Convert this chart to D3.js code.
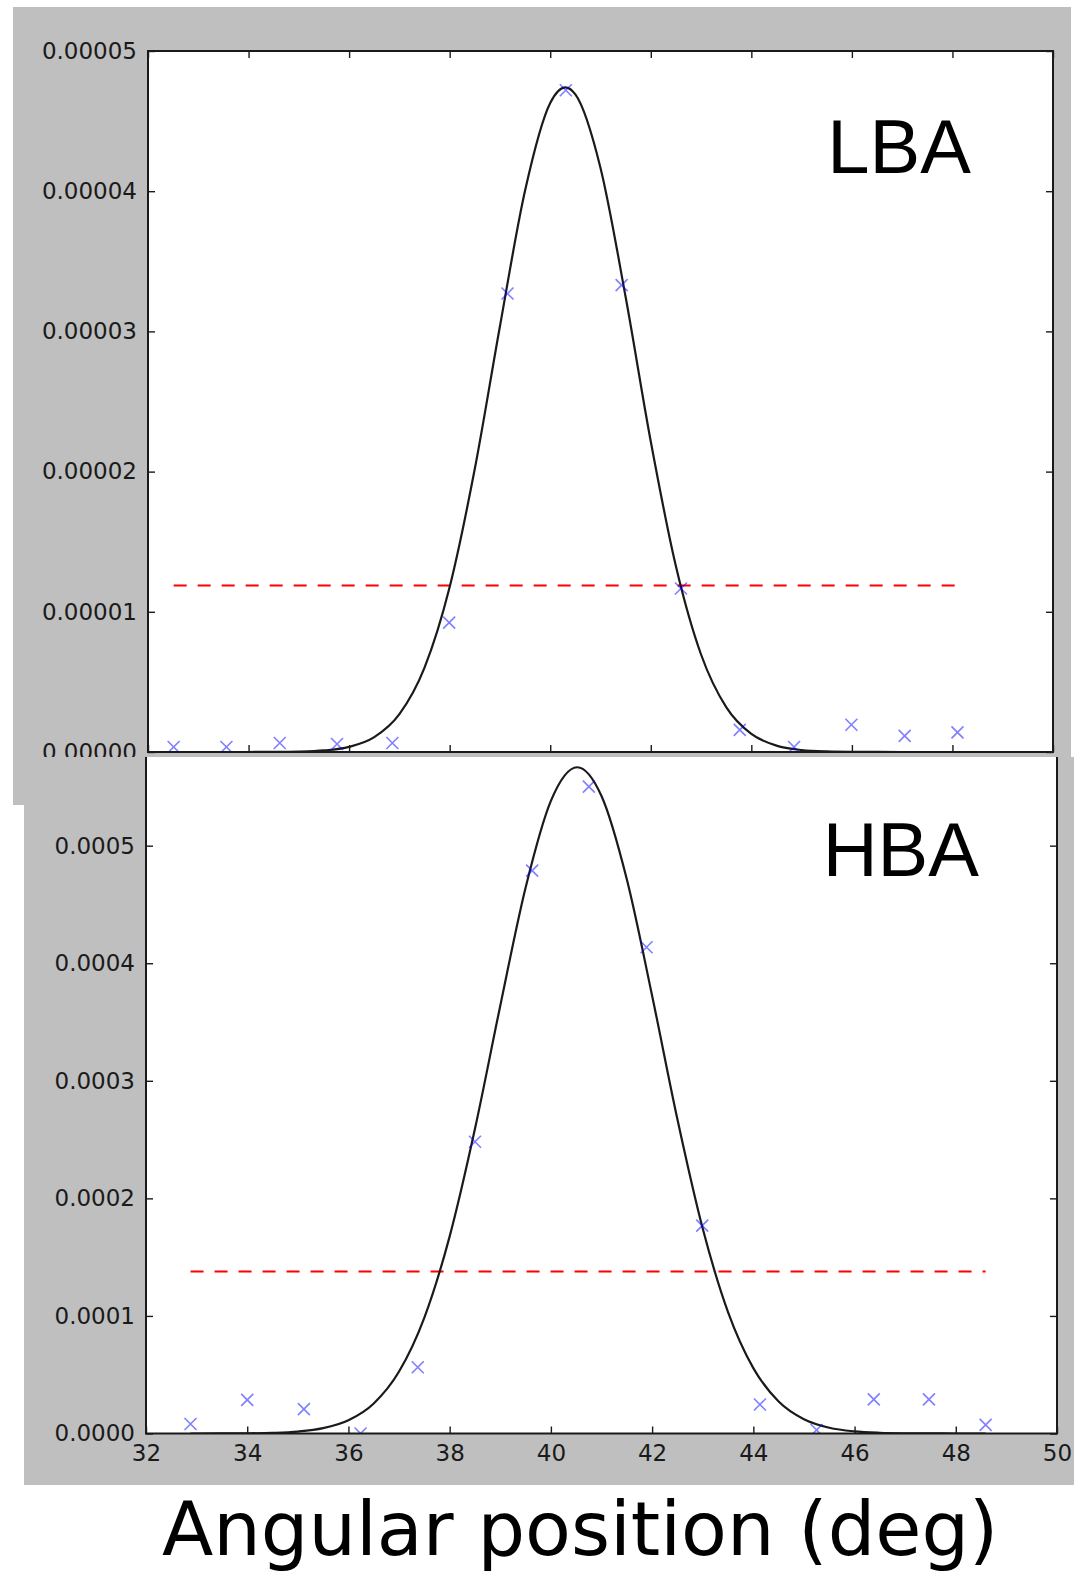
<!DOCTYPE html>
<html>
<head>
<meta charset="utf-8">
<script src="https://cdn.jsdelivr.net/npm/d3@7"></script>
<style>
  body { margin: 0; background: #ffffff; }
  svg { display: block; }
  .tick text { font-family: "DejaVu Sans", sans-serif; font-size: 23px; fill: #1a1a1a; }
  .tick line { stroke: #1a1a1a; stroke-width: 1.4; }
</style>
</head>
<body>
<svg id="chart" width="1074" height="1572"></svg>
<script>
// x ticks shared by both panels
const angleTicks = [32, 34, 36, 38, 40, 42, 44, 46, 48, 50];

// LBA panel, power in units of 1e-5
const lbaUnit = 1e-5;
const lbaTicks = [0, 1, 2, 3, 4, 5];
const lbaAngle = [32.51, 33.56, 34.62, 35.76, 36.86, 37.99, 39.15, 40.31, 41.42, 42.60, 43.77, 44.85, 45.99, 47.05, 48.10];
const lbaPower = [0.036, 0.036, 0.064, 0.057, 0.064, 0.923, 3.27, 4.72, 3.33, 1.166, 0.158, 0.036, 0.194, 0.115, 0.14];
const lbaFitAngle = [32.51, 33, 33.5, 34, 34.5, 35, 35.5, 36, 36.5, 37, 37.5, 38, 38.5, 39, 39.5, 40, 40.3,
  40.5, 41, 41.5, 42, 42.5, 43, 43.5, 44, 44.5, 45, 45.5, 46, 46.5, 47, 47.5, 48, 48.1];
const lbaFitPower = [0, 0, 0, 0.0001, 0.0007, 0.0029, 0.011, 0.0365, 0.1058, 0.2697, 0.6017, 1.177, 2.02, 3.037, 4.005, 4.629, 4.74,
  4.69, 4.166, 3.245, 2.215, 1.325, 0.6954, 0.3199, 0.1289, 0.0456, 0.0141, 0.0038, 0.0009, 0.0002, 0, 0, 0, 0];
const lbaLevel = 1.188;

// HBA panel, power in units of 1e-4
const hbaUnit = 1e-4;
const hbaTicks = [0, 1, 2, 3, 4, 5];
const hbaAngle = [32.88, 34.0, 35.12, 36.24, 37.37, 38.50, 39.63, 40.75, 41.89, 42.99, 44.13, 45.25, 46.38, 47.47, 48.59];
const hbaPower = [0.081, 0.286, 0.207, 0.0, 0.564, 2.482, 4.788, 5.502, 4.136, 1.768, 0.247, 0.03, 0.29, 0.29, 0.073];
const hbaFitAngle = [32.88, 33, 33.5, 34, 34.5, 35, 35.5, 36, 36.5, 37, 37.5, 38, 38.5, 39, 39.5, 40, 40.52,
  41, 41.5, 42, 42.5, 43, 43.5, 44, 44.5, 45, 45.5, 46, 46.5, 47, 47.5, 48, 48.5, 48.59];
const hbaFitPower = [0.0001, 0.0001, 0.00045, 0.0016, 0.0054, 0.0164, 0.0452, 0.1128, 0.2558, 0.527, 0.986, 1.677, 2.592, 3.639, 4.642, 5.381, 5.667,
  5.422, 4.714, 3.724, 2.673, 1.743, 1.033, 0.556, 0.2718, 0.1209, 0.0487, 0.0179, 0.006, 0.0018, 0.0005, 0.0001, 0, 0];
const hbaLevel = 1.378;

const svg = d3.select("#chart");
svg.append("rect").attr("width", 1074).attr("height", 1572).attr("fill", "#ffffff");

function drawPanel(cfg) {
  const g = svg.append("g");
  g.append("rect")
    .attr("x", cfg.bg[0]).attr("y", cfg.bg[1])
    .attr("width", cfg.bg[2]).attr("height", cfg.bg[3])
    .attr("fill", "#bfbfbf");

  const x = d3.scaleLinear().domain([32, 50]).range([cfg.left, cfg.right]);
  const y = d3.scaleLinear().domain(cfg.yDomain).range([cfg.bottom, cfg.yTopPx]);
  const top = cfg.clipTop;

  g.append("rect")
    .attr("x", cfg.left).attr("y", top)
    .attr("width", cfg.right - cfg.left).attr("height", cfg.bottom - top)
    .attr("fill", "#ffffff");

  const clipId = "clip-" + cfg.name;
  g.append("clipPath").attr("id", clipId)
    .append("rect")
    .attr("x", cfg.left).attr("y", top)
    .attr("width", cfg.right - cfg.left).attr("height", cfg.bottom - top);

  const inner = g.append("g").attr("clip-path", `url(#${clipId})`);

  // threshold line
  const lx = d3.extent(cfg.angle);
  inner.append("line")
    .attr("x1", x(lx[0])).attr("x2", x(lx[1]))
    .attr("y1", y(cfg.level)).attr("y2", y(cfg.level))
    .attr("stroke", "#ff0000").attr("stroke-width", 2)
    .attr("stroke-dasharray", "13,11");

  // fitted curve
  const fit = cfg.fitAngle.map((a, i) => [a, cfg.fitPower[i]]);
  inner.append("path")
    .datum(fit)
    .attr("fill", "none")
    .attr("stroke", "#1a1a1a")
    .attr("stroke-width", 2.2)
    .attr("d", d3.line().x((d) => x(d[0])).y((d) => y(d[1])).curve(d3.curveMonotoneX));

  // measured points as x markers
  const pts = cfg.angle.map((a, i) => [a, cfg.power[i]]);
  const s = 6;
  inner.append("g")
    .selectAll("path")
    .data(pts)
    .join("path")
    .attr("d", (d) => {
      const px = x(d[0]), py = y(d[1]);
      return `M${px - s},${py - s}L${px + s},${py + s}M${px - s},${py + s}L${px + s},${py - s}`;
    })
    .attr("fill", "none")
    .attr("stroke", "#0000ff")
    .attr("stroke-opacity", 0.5)
    .attr("stroke-width", 1.6);

  // ticks, pointing inwards on all four sides
  const fmt = (v) => d3.format(cfg.fmt)(v * cfg.unit);
  const yl = g.append("g").attr("transform", `translate(${cfg.left},0)`)
    .call(d3.axisLeft(y).tickValues(cfg.yTicks).tickFormat(fmt).tickSize(-7).tickSizeOuter(0).tickPadding(11));
  yl.select(".domain").remove();
  const yr = g.append("g").attr("transform", `translate(${cfg.right},0)`)
    .call(d3.axisRight(y).tickValues(cfg.yTicks).tickFormat("").tickSize(-7).tickSizeOuter(0));
  yr.select(".domain").remove();

  const xb = g.append("g").attr("transform", `translate(0,${cfg.bottom})`)
    .call(d3.axisBottom(x).tickValues(angleTicks).tickFormat(cfg.xLabels ? d3.format("d") : "")
      .tickSize(-7).tickSizeOuter(0).tickPadding(11));
  xb.select(".domain").remove();
  if (cfg.showTop) {
    const xt = g.append("g").attr("transform", `translate(0,${cfg.yTopPx})`)
      .call(d3.axisTop(x).tickValues(angleTicks).tickFormat("").tickSize(-7).tickSizeOuter(0));
    xt.select(".domain").remove();
  }

  // frame
  const frame = cfg.showTop
    ? `M${cfg.left},${cfg.yTopPx}H${cfg.right}V${cfg.bottom}H${cfg.left}Z`
    : `M${cfg.left},${top}V${cfg.bottom}H${cfg.right}V${top}`;
  g.append("path").attr("d", frame).attr("fill", "none")
    .attr("stroke", "#1a1a1a").attr("stroke-width", 2);

  g.append("text")
    .attr("x", cfg.tagX).attr("y", cfg.tagY)
    .attr("text-anchor", "end")
    .attr("font-family", "'Liberation Sans', Arial, sans-serif")
    .attr("font-size", 76)
    .attr("fill", "#000000")
    .text(cfg.name);
}

drawPanel({
  name: "LBA", bg: [13, 7, 1058, 798],
  left: 148, right: 1053, bottom: 752, yTopPx: 51, clipTop: 51,
  yDomain: [0, 5], yTicks: lbaTicks, unit: lbaUnit, fmt: ".5f",
  angle: lbaAngle, power: lbaPower, fitAngle: lbaFitAngle, fitPower: lbaFitPower, level: lbaLevel,
  showTop: true, xLabels: false, tagX: 971, tagY: 173
});

drawPanel({
  name: "HBA", bg: [24, 757, 1050, 728],
  left: 146, right: 1057, bottom: 1433.5, yTopPx: 728.1, clipTop: 757,
  yDomain: [0, 6], yTicks: hbaTicks, unit: hbaUnit, fmt: ".4f",
  angle: hbaAngle, power: hbaPower, fitAngle: hbaFitAngle, fitPower: hbaFitPower, level: hbaLevel,
  showTop: false, xLabels: true, tagX: 979, tagY: 876
});

svg.append("text")
  .attr("x", 162).attr("y", 1555)
  .attr("font-family", "'DejaVu Sans', sans-serif")
  .attr("font-size", 75)
  .attr("fill", "#000000")
  .text("Angular position (deg)");
</script>
</body>
</html>
